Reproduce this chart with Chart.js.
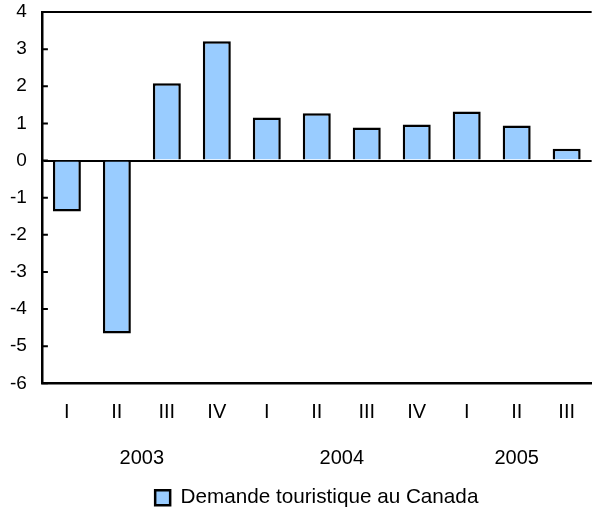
<!DOCTYPE html>
<html>
<head>
<meta charset="utf-8">
<script src="https://cdn.jsdelivr.net/npm/chart.js@4"></script>
<style>
  html, body { margin: 0; padding: 0; background: #fff; }
  #wrap { width: 592px; height: 510px; }
</style>
</head>
<body>
<div id="wrap"><canvas id="tourChart"></canvas></div>
<script>
const quarters = ["I", "II", "III", "IV", "I", "II", "III", "IV", "I", "II", "III"];
const years = ["2003", "2004", "2005"];
const yearSpans = [[0, 3], [4, 7], [8, 10]];
const demande = [-1.37, -4.66, 2.08, 3.21, 1.16, 1.27, 0.89, 0.97, 1.32, 0.94, 0.32];
const yTicks = [4, 3, 2, 1, 0, -1, -2, -3, -4, -5, -6];

const FONT = "'Liberation Sans', Arial, sans-serif";

// frame top line, inner y ticks, year labels under the quarters
const extras = {
  id: "extras",
  afterDraw(chart) {
    const { ctx, chartArea } = chart;
    const x = chart.scales.x;
    const y = chart.scales.y;
    ctx.save();
    ctx.strokeStyle = "#000";
    ctx.lineWidth = 2;
    ctx.beginPath();
    ctx.moveTo(chartArea.left, chartArea.top);
    ctx.lineTo(chartArea.right, chartArea.top);
    yTicks.forEach((v) => {
      const py = y.getPixelForValue(v);
      ctx.moveTo(chartArea.left, py);
      ctx.lineTo(chartArea.left + 6, py);
    });
    ctx.stroke();

    ctx.fillStyle = "#000";
    ctx.font = "20px " + FONT;
    ctx.textAlign = "center";
    ctx.textBaseline = "middle";
    yearSpans.forEach((s, i) => {
      const cx = (x.getPixelForValue(s[0]) + x.getPixelForValue(s[1])) / 2;
      ctx.fillText(years[i], cx, chartArea.bottom + 75);
    });
    ctx.restore();
  }
};

new Chart(document.getElementById("tourChart"), {
  type: "bar",
  data: {
    labels: quarters,
    datasets: [
      {
        label: "Demande touristique au Canada",
        data: demande,
        backgroundColor: "#99ccff",
        borderColor: "#000",
        borderWidth: 2.5,
        barPercentage: 0.56,
        categoryPercentage: 1
      }
    ]
  },
  options: {
    responsive: true,
    maintainAspectRatio: false,
    animation: false,
    layout: { padding: { left: -5, right: 0, top: 0, bottom: -8 } },
    plugins: {
      legend: {
        position: "bottom",
        fullSize: false,
        labels: {
          color: "#000",
          font: { family: FONT, size: 20.7 },
          boxWidth: 15,
          boxHeight: 15,
          padding: 6
        }
      },
      tooltip: { enabled: false }
    },
    scales: {
      x: {
        grid: { display: false, drawTicks: false },
        border: { display: true, color: "#000", width: 2.5 },
        ticks: {
          color: "#000",
          font: { family: FONT, size: 20 },
          padding: 17,
          maxRotation: 0
        },
        afterFit(scale) { scale.height = 98; }
      },
      y: {
        min: -6,
        max: 4,
        afterBuildTicks(scale) {
          scale.ticks = yTicks.map((v) => ({ value: v }));
        },
        afterFit(scale) {
          scale.paddingTop = 12;
        },
        grid: {
          drawTicks: false,
          lineWidth: 2,
          color: (c) => (c.tick && c.tick.value === 0 ? "#000" : "rgba(0,0,0,0)")
        },
        border: { display: true, color: "#000", width: 2.5 },
        ticks: {
          color: "#000",
          font: { family: FONT, size: 19 },
          padding: 15
        }
      }
    }
  },
  plugins: [extras]
});
</script>
</body>
</html>
